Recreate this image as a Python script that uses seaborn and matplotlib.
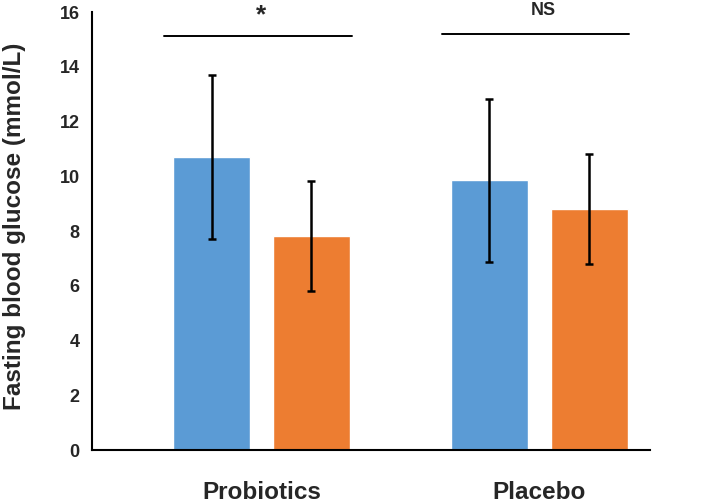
import pandas as pd
import matplotlib.pyplot as plt
import seaborn as sns

groups = ["Probiotics", "Placebo"]
timepoints = ["Before", "After"]
means = [[10.7, 7.82], [9.85, 8.8]]
errors = [[3.0, 2.0], [2.97, 2.0]]
sig_labels = ["*", "NS"]

rows = []
for g, m_row, e_row in zip(groups, means, errors):
    for t, m, e in zip(timepoints, m_row, e_row):
        rows.append({"group": g, "time": t, "mean": m, "err": e})
df = pd.DataFrame(rows)

sns.set_style("white")
plt.rcParams['font.family'] = ['Liberation Sans', 'DejaVu Sans']

fig = plt.figure(figsize=(7.09, 5.04), dpi=100)
ax = fig.add_axes([0.13, 0.107, 0.787, 0.869])

sns.barplot(data=df, x="group", y="mean", hue="time", order=groups, hue_order=timepoints,
            palette=["#5B9BD5", "#ED7D31"], width=0.72, gap=0.23, errorbar=None,
            legend=False, ax=ax, saturation=1)

# error bars on top of the bars seaborn drew
for container, t in zip(ax.containers, timepoints):
    sub = df[df["time"] == t].set_index("group").loc[groups]
    xs = [p.get_x() + p.get_width() / 2 for p in container]
    ax.errorbar(xs, sub["mean"], yerr=sub["err"], fmt="none", ecolor="black",
                elinewidth=1.8, capsize=3, capthick=1.8)

# significance lines
sig_y = [15.12, 15.2]
for i, lab in enumerate(sig_labels):
    ax.plot([i - 0.35, i + 0.325], [sig_y[i], sig_y[i]], color="black", lw=1.4, clip_on=False)
ax.text(0.0, 15.62, "*", ha="center", va="baseline", fontsize=19, fontweight="bold", clip_on=False)
ax.text(1.014, 15.9, "NS", ha="center", va="baseline", fontsize=13, fontweight="bold", clip_on=False)

ax.set_ylim(0, 16)
ax.set_xlim(-0.61, 1.4)
ax.set_yticks(range(0, 17, 2))
ax.set_xlabel("")
ax.set_ylabel("Fasting blood glucose (mmol/L)", fontsize=17.5, fontweight="bold")
ax.yaxis.set_label_coords(-0.118, 0.51)
ax.tick_params(axis="y", direction="in", length=6, color="#888888", labelsize=13, pad=9)
ax.tick_params(axis="x", length=0, labelsize=17.5, pad=22)
for lab in ax.get_yticklabels() + ax.get_xticklabels():
    lab.set_fontweight("bold")
sns.despine(ax=ax, top=True, right=True)
for s in ["left", "bottom"]:
    ax.spines[s].set_color("black")
    ax.spines[s].set_linewidth(1.5)

plt.savefig("out.png", dpi=100)
